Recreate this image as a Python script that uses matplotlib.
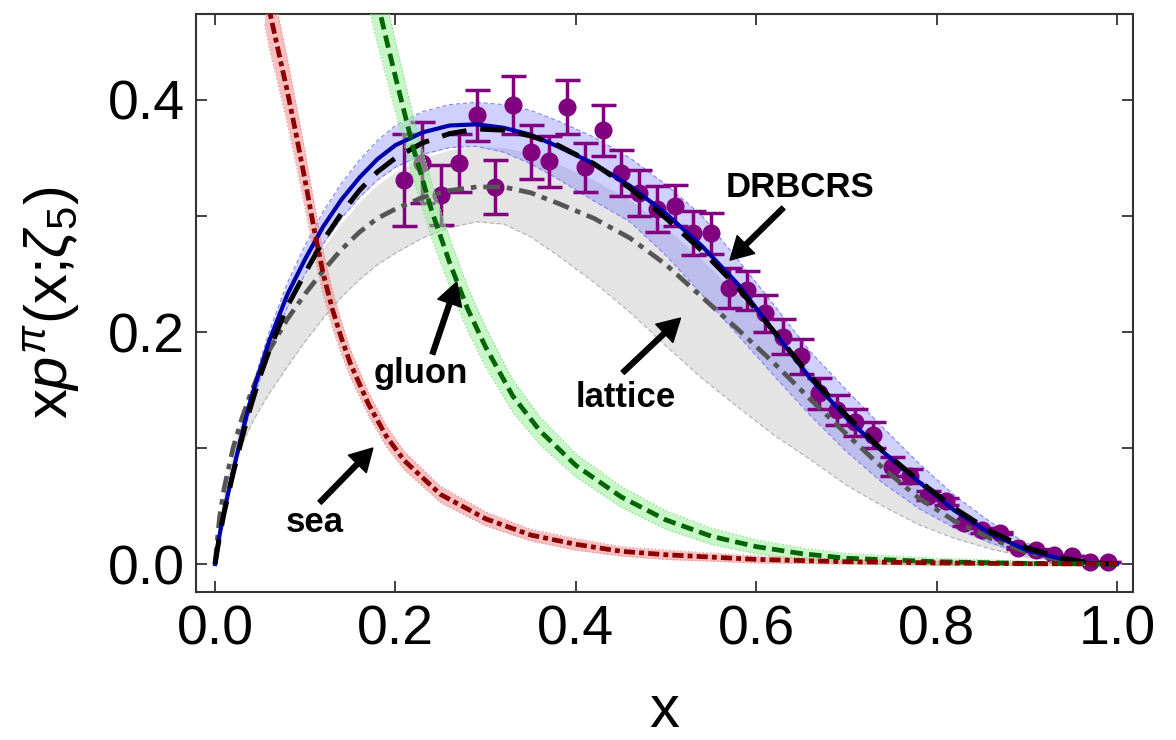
import matplotlib
matplotlib.use("Agg")
import matplotlib.pyplot as plt
import numpy as np

plt.rcParams['font.family'] = ['Liberation Sans', 'DejaVu Sans']
plt.rcParams['mathtext.fontset'] = 'custom'
plt.rcParams['mathtext.rm'] = 'Liberation Sans'
plt.rcParams['mathtext.it'] = 'Liberation Sans:italic'
plt.rcParams['lines.scale_dashes'] = False

# shared x grid for the valence-type curves
xv = [0, 0.005, 0.01, 0.02, 0.03, 0.04, 0.05, 0.06, 0.08, 0.10, 0.12, 0.14, 0.16, 0.18,
      0.20, 0.23, 0.26, 0.29, 0.32, 0.35, 0.38, 0.42, 0.46, 0.50, 0.54, 0.58, 0.62, 0.66,
      0.70, 0.74, 0.78, 0.82, 0.86, 0.90, 0.94, 0.97, 1.0]

# prediction (solid blue) and its band
pred = [0, 0.025, 0.045, 0.080, 0.113, 0.143, 0.168, 0.192, 0.232, 0.263, 0.291, 0.314, 0.333, 0.349,
        0.361, 0.372, 0.378, 0.379, 0.376, 0.370, 0.360, 0.345, 0.326, 0.302, 0.274, 0.241, 0.200, 0.160,
        0.126, 0.097, 0.071, 0.046, 0.026, 0.012, 0.004, 0.001, 0]
pred_hi = [0, 0.026, 0.047, 0.084, 0.118, 0.149, 0.175, 0.200, 0.242, 0.275, 0.304, 0.328, 0.348, 0.365,
           0.378, 0.390, 0.396, 0.398, 0.396, 0.391, 0.382, 0.368, 0.350, 0.327, 0.300, 0.262, 0.223, 0.183,
           0.150, 0.118, 0.087, 0.059, 0.036, 0.018, 0.007, 0.002, 0]
pred_lo = [0, 0.024, 0.043, 0.076, 0.107, 0.136, 0.160, 0.183, 0.221, 0.250, 0.276, 0.298, 0.316, 0.331,
           0.342, 0.353, 0.359, 0.360, 0.355, 0.345, 0.332, 0.313, 0.295, 0.266, 0.232, 0.197, 0.162, 0.128,
           0.097, 0.070, 0.048, 0.031, 0.018, 0.008, 0.002, 0.0005, 0]

# DRBCRS fit (black dashed)
drbcrs = [0, 0.024, 0.044, 0.078, 0.109, 0.137, 0.162, 0.184, 0.222, 0.251, 0.279, 0.302, 0.322, 0.338,
          0.350, 0.363, 0.371, 0.375, 0.374, 0.369, 0.361, 0.345, 0.324, 0.298, 0.270, 0.238, 0.200, 0.162,
          0.128, 0.098, 0.072, 0.048, 0.028, 0.014, 0.005, 0.001, 0]

# lattice (grey dash-dot) and its band
latt = [0, 0.040, 0.065, 0.100, 0.126, 0.148, 0.167, 0.184, 0.211, 0.233, 0.253, 0.271, 0.286, 0.298,
        0.306, 0.316, 0.322, 0.325, 0.325, 0.320, 0.311, 0.298, 0.281, 0.258, 0.230, 0.202, 0.173, 0.142,
        0.112, 0.083, 0.057, 0.037, 0.022, 0.010, 0.003, 0.001, 0]
latt_hi = [0, 0.040, 0.065, 0.100, 0.128, 0.151, 0.171, 0.190, 0.222, 0.249, 0.273, 0.294, 0.312, 0.327,
           0.338, 0.350, 0.357, 0.360, 0.359, 0.354, 0.345, 0.331, 0.314, 0.290, 0.262, 0.232, 0.200, 0.166,
           0.132, 0.100, 0.071, 0.048, 0.029, 0.014, 0.005, 0.001, 0]
latt_lo = [0, 0.034, 0.055, 0.083, 0.103, 0.120, 0.134, 0.147, 0.170, 0.192, 0.212, 0.230, 0.245, 0.258,
           0.268, 0.281, 0.290, 0.295, 0.293, 0.282, 0.266, 0.243, 0.217, 0.188, 0.160, 0.135, 0.111, 0.090,
           0.068, 0.050, 0.034, 0.022, 0.013, 0.006, 0.002, 0.0005, 0]

# gluon (green dashed)
xg = [0.17, 0.18, 0.19, 0.20, 0.22, 0.24, 0.26, 0.28, 0.30, 0.33, 0.36, 0.40, 0.45, 0.50,
      0.55, 0.60, 0.65, 0.70, 0.80, 0.90, 1.0]
gluon = [0.52, 0.485, 0.452, 0.42, 0.358, 0.305, 0.26, 0.22, 0.187, 0.145, 0.115, 0.085, 0.058, 0.038,
         0.024, 0.015, 0.009, 0.005, 0.002, 0.0005, 0.0]
gluon_err = [0.04, 0.036, 0.033, 0.03, 0.027, 0.024, 0.021, 0.019, 0.017, 0.014, 0.012, 0.010, 0.009, 0.008,
             0.007, 0.006, 0.005, 0.004, 0.003, 0.002, 0.001]

# sea (dark red dash-dot)
xs = [0.055, 0.06, 0.07, 0.08, 0.09, 0.10, 0.11, 0.12, 0.13, 0.14, 0.15, 0.17, 0.19, 0.21, 0.25,
      0.30, 0.35, 0.40, 0.45, 0.50, 0.60, 0.70, 0.80, 0.90, 1.0]
sea = [0.50, 0.478, 0.443, 0.408, 0.37, 0.33, 0.288, 0.250, 0.220, 0.195, 0.173, 0.138, 0.110, 0.089, 0.06,
       0.039, 0.025, 0.017, 0.011, 0.008, 0.004, 0.002, 0.001, 0.0003, 0.0]
sea_err = [0.035, 0.033, 0.03, 0.028, 0.026, 0.024, 0.022, 0.019, 0.016, 0.014, 0.012, 0.010, 0.009, 0.008, 0.007,
           0.006, 0.005, 0.005, 0.004, 0.004, 0.003, 0.002, 0.002, 0.001, 0.0]

# data points
xd = [0.21, 0.23, 0.25, 0.27, 0.29, 0.31, 0.33, 0.35, 0.37, 0.39, 0.41, 0.43, 0.45, 0.47, 0.49, 0.51,
      0.53, 0.55, 0.57, 0.59, 0.61, 0.63, 0.65, 0.67, 0.69, 0.71, 0.73, 0.75, 0.77, 0.79, 0.81, 0.83,
      0.85, 0.87, 0.89, 0.91, 0.93, 0.95, 0.97, 0.99]
yd = [0.331, 0.346, 0.318, 0.346, 0.387, 0.325, 0.396, 0.355, 0.347, 0.394, 0.342, 0.374, 0.337, 0.320,
      0.306, 0.309, 0.285, 0.285, 0.238, 0.236, 0.216, 0.196, 0.179, 0.147, 0.133, 0.122, 0.111, 0.084,
      0.076, 0.059, 0.054, 0.035, 0.029, 0.027, 0.014, 0.012, 0.008, 0.007, 0.002, 0.002]
ed = [0.040, 0.035, 0.026, 0.025, 0.022, 0.023, 0.025, 0.023, 0.022, 0.023, 0.021, 0.022, 0.020, 0.020,
      0.020, 0.018, 0.019, 0.018, 0.017, 0.017, 0.016, 0.015, 0.015, 0.013, 0.013, 0.012, 0.011, 0.008,
      0.006, 0.004, 0.003, 0.002, 0.002, 0.001, 0.001, 0.001, 0.0, 0.0, 0.0, 0.0]

fig = plt.figure(figsize=(11.76, 7.4), dpi=100)
ax = fig.add_axes([196 / 1176, 148 / 740, 937 / 1176, 578 / 740])

# bands
ax.fill_between(xv, latt_lo, latt_hi, color='#e4e4e4', lw=0, zorder=1)
ax.plot(xv, latt_lo, color='#b0b0b0', lw=0.8, ls=(0, (3, 2)), zorder=1.1)
ax.fill_between(xv, pred_lo, pred_hi, color='#6666ff', alpha=0.3, lw=0, zorder=2)
ax.plot(xv, pred_lo, color='#8080ff', lw=0.8, ls=(0, (3, 2)), zorder=2.1)
ax.plot(xv, pred_hi, color='#8080ff', lw=0.8, ls=(0, (3, 2)), zorder=2.1)

g = np.array(gluon)
ge = np.array(gluon_err)
s = np.array(sea)
se = np.array(sea_err)

# data
ax.errorbar(xd, yd, yerr=ed, fmt='o', color='#800080', ms=12, elinewidth=2.5,
            capsize=9, capthick=2.5, zorder=3)

ax.fill_between(xg, g - ge, g + ge, color='#90ee90', alpha=0.5, lw=0, zorder=4)
ax.plot(xg, g - ge, color='#80e080', lw=0.8, ls=':', zorder=4.1)
ax.plot(xg, g + ge, color='#80e080', lw=0.8, ls=':', zorder=4.1)
ax.fill_between(xs, s - se, s + se, color='#f08080', alpha=0.5, lw=0, zorder=4)
ax.plot(xs, s - se, color='#f09090', lw=0.8, ls=':', zorder=4.1)
ax.plot(xs, s + se, color='#f09090', lw=0.8, ls=':', zorder=4.1)

# curves
ax.plot(xv, latt, color='#555555', lw=3.4, ls=(0, (12, 5, 4, 5)), zorder=5)
ax.plot(xv, pred, color='#0000aa', lw=3.0, zorder=5)
ax.plot(xv, drbcrs, color='black', lw=3.6, ls=(0, (18, 10)), zorder=6)
ax.plot(xg, gluon, color='#006400', lw=3.4, ls=(0, (9, 4.5)), zorder=6)
ax.plot(xs, sea, color='#8b0000', lw=3.4, ls=(0, (8, 3, 3.5, 3)), zorder=6)

# labels with arrows
arrow = dict(facecolor='black', edgecolor='black', width=3.5, headwidth=18, headlength=16, shrink=0)
tfont = dict(fontsize=25, fontweight='bold', ha='center', va='baseline', zorder=7)
ax.annotate('', xy=(0.571, 0.262), xytext=(0.630, 0.307), arrowprops=arrow, zorder=7)
ax.text(0.648, 0.316, 'DRBCRS', **tfont)
ax.annotate('', xy=(0.268, 0.243), xytext=(0.241, 0.181), arrowprops=arrow, zorder=7)
ax.text(0.228, 0.156, 'gluon', **tfont)
ax.annotate('', xy=(0.516, 0.212), xytext=(0.452, 0.165), arrowprops=arrow, zorder=7)
ax.text(0.455, 0.135, 'lattice', **tfont)
ax.annotate('', xy=(0.175, 0.100), xytext=(0.116, 0.053), arrowprops=arrow, zorder=7)
ax.text(0.111, 0.028, 'sea', **tfont)

ax.set_xlim(-0.0211, 1.0177)
ax.set_ylim(-0.0241, 0.4741)
ax.set_xticks([0, 0.2, 0.4, 0.6, 0.8, 1.0])
ax.set_xticklabels(['0.0', '0.2', '0.4', '0.6', '0.8', '1.0'])
ax.set_yticks([0, 0.1, 0.2, 0.3, 0.4])
ax.set_yticklabels(['0.0', '', '0.2', '', '0.4'])
ax.tick_params(direction='in', top=True, right=True, length=8, width=1.3,
               labelsize=40, color='#333333')
ax.tick_params(axis='x', pad=9)
ax.tick_params(axis='y', pad=8)
for sp in ax.spines.values():
    sp.set_linewidth(1.5)
    sp.set_color('#333333')

ax.set_xlabel('x', fontsize=43)
ax.xaxis.set_label_coords(0.5, -0.16)
ax.set_ylabel(r'x$p^{\pi}$(x;$\zeta_5$)', fontsize=43)
ax.yaxis.set_label_coords(-0.12, 0.5)

fig.savefig('out.png', dpi=100)
